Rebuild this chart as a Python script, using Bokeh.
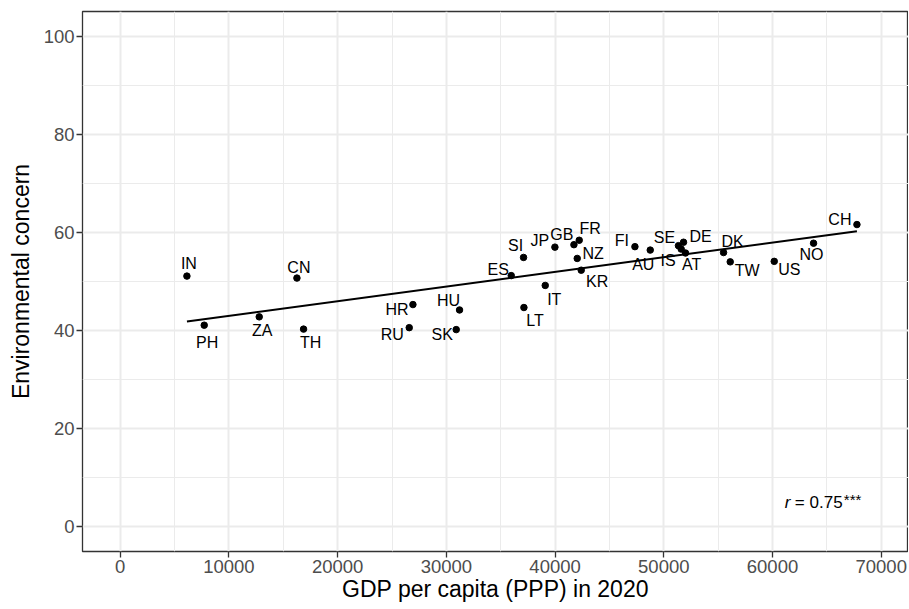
import numpy as np
from bokeh.plotting import figure
from bokeh.models import ColumnDataSource, Range1d, FixedTicker, NumeralTickFormatter
from bokeh.core.properties import value
from bokeh.embed import file_html
from bokeh.resources import INLINE

# ---------------- data ----------------
countries = ["IN", "CN", "PH", "ZA", "TH", "HR", "RU", "HU", "SK", "ES",
             "LT", "IT", "SI", "JP", "GB", "FR", "NZ", "KR", "FI", "AU",
             "SE", "IS", "DE", "AT", "DK", "TW", "US", "NO", "CH"]
gdp = [6135, 16254, 7727, 12786, 16865, 26925, 26585, 31212, 30908, 35968,
       37134, 39095, 37100, 39985, 41734, 42222, 42038, 42406, 47346, 48754,
       51350, 51600, 51817, 52000, 55497, 56112, 60160, 63777, 67766]
concern = [51.1, 50.7, 41.1, 42.8, 40.3, 45.3, 40.6, 44.2, 40.2, 51.2,
           44.7, 49.2, 54.9, 57.0, 57.5, 58.4, 54.7, 52.3, 57.1, 56.4,
           57.3, 56.6, 58.0, 55.8, 55.9, 54.0, 54.1, 57.8, 61.6]
x_ticks = [0, 10000, 20000, 30000, 40000, 50000, 60000, 70000]
x_minor = [5000, 15000, 25000, 35000, 45000, 55000, 65000]
y_ticks = [0, 20, 40, 60, 80, 100]
y_minor = [10, 30, 50, 70, 90]
r_text = "0.75"
stars = "***"

# label offsets in screen pixels (style, not data)
label_dx = [2, 2, 3, 3, 7, -16, -17, -11, -14, -13,
            11, 9, -8, -15, -12, 11, 16, 16, -13, -7,
            -14, -13, 17, 6, 9, 17, 15, -2, -17]
label_dy = [-13, -11, 17, 14, 13, 5, 7, -9, 5, -6,
            13, 14, -12, -7, -10, -12, -5, 11, -6, 14,
            -8, 11, -6, 11, -11, 9, 8, 11, -5]

FONT = "Liberation Sans"

p = figure(width=908, height=608, output_backend="svg", toolbar_location=None,
           x_range=Range1d(-3470, 72510), y_range=Range1d(-5, 105),
           min_border_left=82, min_border_right=0, min_border_top=11,
           min_border_bottom=57)
p.background_fill_color = "white"
p.border_fill_color = "white"
p.outline_line_color = "#333333"
p.outline_line_width = 1.3

p.xaxis.ticker = FixedTicker(ticks=x_ticks, minor_ticks=x_minor)
p.yaxis.ticker = FixedTicker(ticks=y_ticks, minor_ticks=y_minor)
p.xaxis.formatter = NumeralTickFormatter(format="0")

for ax in (p.xaxis, p.yaxis):
    ax.axis_line_color = None
    ax.major_tick_line_color = "#333333"
    ax.major_tick_line_width = 1.3
    ax.major_tick_out = 6
    ax.major_tick_in = 0
    ax.minor_tick_line_color = None
    ax.major_label_text_font = FONT
    ax.major_label_text_font_size = "18.5px"
    ax.major_label_text_color = "#4D4D4D"
    ax.axis_label_text_font = FONT
    ax.axis_label_text_font_size = "23px"
    ax.axis_label_text_font_style = "normal"
    ax.axis_label_text_color = "black"
    ax.major_label_standoff = 2

p.xaxis.axis_label = "GDP per capita (PPP) in 2020"
p.yaxis.axis_label = "Environmental concern"
p.xaxis.axis_label_standoff = 0
p.yaxis.axis_label_standoff = 7

for g in (p.xgrid, p.ygrid):
    g.grid_line_color = "#EBEBEB"
    g.grid_line_width = 2
    g.minor_grid_line_color = "#EBEBEB"
    g.minor_grid_line_width = 1

# regression line
slope, intercept = np.polyfit(gdp, concern, 1)
xs = np.array([min(gdp), max(gdp)])
p.line(xs, intercept + slope * xs, line_color="black", line_width=2)

src = ColumnDataSource(dict(x=gdp, y=concern, lab=countries, dx=label_dx, dy=label_dy))
p.scatter("x", "y", source=src, size=6.5, color="black")
p.text("x", "y", text="lab", source=src, x_offset="dx", y_offset="dy",
       text_align="center", text_baseline="middle",
       text_font=value(FONT), text_font_size="16px", text_color="black")

# correlation annotation
p.text([65000], [5], text=["r"], x_offset=-42, text_align="left",
       text_baseline="middle", text_font=value(FONT), text_font_style="italic",
       text_font_size="17px", text_color="black")
p.text([65000], [5], text=["= " + r_text], x_offset=-32, text_align="left",
       text_baseline="middle", text_font=value(FONT),
       text_font_size="17px", text_color="black")
p.text([65000], [5], text=[stars], x_offset=17, y_offset=-3, text_align="left",
       text_baseline="middle", text_font=value(FONT),
       text_font_size="15px", text_color="black")

open("out.html", "w").write(file_html(p, INLINE))
